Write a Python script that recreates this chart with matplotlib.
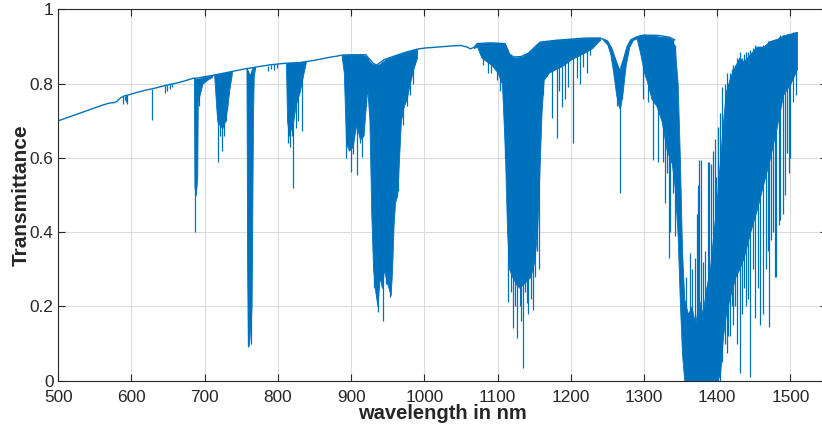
import numpy as np
import matplotlib.pyplot as plt

# upper envelope / continuum of the spectrum (nm, transmittance)
cont_wl = [500, 510, 520, 530, 540, 550, 560, 570, 576, 580, 585, 590, 600, 610, 620, 630,
           640, 650, 660, 670, 680, 685, 690, 700, 710, 720, 730, 740, 750, 757, 766, 770,
           780, 790, 800, 810, 820, 830, 840, 850, 860, 870, 880, 887, 900, 920, 930, 935,
           945, 960, 975, 990, 1000, 1020, 1040, 1050, 1058, 1063, 1068, 1072, 1090, 1110,
           1116, 1122, 1132, 1142, 1150, 1158, 1180, 1200, 1220, 1240, 1250, 1256, 1262,
           1266, 1268, 1272, 1277, 1282, 1290, 1300, 1320, 1335, 1342]
cont_t = [0.700, 0.707, 0.714, 0.721, 0.728, 0.735, 0.742, 0.748, 0.749, 0.752, 0.762, 0.767,
          0.772, 0.778, 0.783, 0.787, 0.792, 0.797, 0.801, 0.806, 0.812, 0.815, 0.815, 0.819,
          0.822, 0.826, 0.830, 0.834, 0.838, 0.841, 0.843, 0.845, 0.848, 0.851, 0.853, 0.855,
          0.856, 0.857, 0.860, 0.863, 0.867, 0.871, 0.874, 0.877, 0.878, 0.878, 0.855, 0.850,
          0.865, 0.875, 0.885, 0.893, 0.896, 0.899, 0.902, 0.903, 0.899, 0.894, 0.898, 0.908,
          0.910, 0.908, 0.880, 0.872, 0.873, 0.882, 0.897, 0.912, 0.917, 0.920, 0.923, 0.923,
          0.915, 0.895, 0.860, 0.838, 0.840, 0.865, 0.900, 0.918, 0.926, 0.931, 0.930, 0.925,
          0.918]

# dense absorption bands: wavelength, top and bottom of the filled region
o2b_wl = [685.3, 686, 688, 689.8, 690.5, 693, 697, 703, 710]
o2b_hi = [0.816, 0.815, 0.812, 0.812, 0.812, 0.814, 0.817, 0.819, 0.822]
o2b_lo = [0.810, 0.520, 0.500, 0.550, 0.750, 0.770, 0.800, 0.810, 0.818]

h2o720_wl = [713, 715, 717, 720, 724, 728, 731, 734, 737]
h2o720_hi = [0.825, 0.824, 0.824, 0.826, 0.827, 0.829, 0.830, 0.832, 0.833]
h2o720_lo = [0.820, 0.760, 0.700, 0.690, 0.680, 0.700, 0.740, 0.790, 0.825]

o2a_wl = [757, 758, 759, 760, 761, 762, 763, 764, 765, 766, 767, 769]
o2a_hi = [0.841, 0.840, 0.835, 0.830, 0.825, 0.825, 0.830, 0.838, 0.842, 0.843, 0.844, 0.845]
o2a_lo = [0.840, 0.300, 0.100, 0.095, 0.110, 0.140, 0.160, 0.200, 0.450, 0.720, 0.820, 0.844]

h2o820_wl = [811, 812.5, 815, 818, 821, 824, 827, 830, 834, 838]
h2o820_hi = [0.855, 0.855, 0.855, 0.856, 0.856, 0.857, 0.857, 0.858, 0.859, 0.860]
h2o820_lo = [0.850, 0.700, 0.660, 0.680, 0.700, 0.740, 0.760, 0.780, 0.820, 0.856]

h2o940_wl = [887, 890, 893, 897, 902, 907, 912, 917, 922, 925, 927.5, 930, 933, 936, 939,
             942, 945, 948, 951, 954, 956, 958, 960, 963, 966, 968, 972, 976, 980, 985, 990]
h2o940_hi = [0.877, 0.877, 0.877, 0.878, 0.878, 0.878, 0.878, 0.877, 0.870, 0.860, 0.855,
             0.852, 0.850, 0.850, 0.853, 0.858, 0.862, 0.866, 0.868, 0.870, 0.872, 0.874,
             0.875, 0.877, 0.879, 0.880, 0.883, 0.885, 0.888, 0.890, 0.893]
h2o940_lo = [0.875, 0.830, 0.640, 0.620, 0.630, 0.690, 0.650, 0.660, 0.790, 0.700, 0.450,
             0.300, 0.240, 0.200, 0.280, 0.250, 0.300, 0.270, 0.250, 0.230, 0.300, 0.420,
             0.480, 0.500, 0.620, 0.700, 0.740, 0.760, 0.800, 0.840, 0.870]

h2o1130_wl = [1068, 1072, 1078, 1085, 1092, 1100, 1106, 1110, 1113, 1116, 1120, 1125, 1130,
              1135, 1140, 1145, 1150, 1154, 1157, 1160, 1163, 1170, 1180, 1190, 1200, 1210,
              1220, 1230, 1236, 1240]
h2o1130_hi = [0.898, 0.908, 0.909, 0.910, 0.910, 0.910, 0.909, 0.908, 0.895, 0.880, 0.872,
              0.870, 0.872, 0.874, 0.880, 0.888, 0.897, 0.905, 0.910, 0.912, 0.914, 0.915,
              0.917, 0.918, 0.920, 0.921, 0.922, 0.923, 0.923, 0.923]
h2o1130_lo = [0.896, 0.900, 0.870, 0.860, 0.850, 0.830, 0.800, 0.620, 0.400, 0.300, 0.280,
              0.260, 0.250, 0.260, 0.270, 0.280, 0.320, 0.400, 0.550, 0.720, 0.810, 0.830,
              0.840, 0.850, 0.865, 0.875, 0.885, 0.897, 0.910, 0.918]

o2_1268_wl = [1244, 1250, 1254, 1258, 1262, 1266, 1268, 1271, 1275, 1280, 1285, 1290]
o2_1268_hi = [0.922, 0.915, 0.900, 0.880, 0.855, 0.835, 0.840, 0.860, 0.890, 0.915, 0.922, 0.926]
o2_1268_lo = [0.918, 0.905, 0.880, 0.830, 0.770, 0.735, 0.740, 0.780, 0.850, 0.900, 0.918, 0.922]

h2o1400_wl = [1290, 1295, 1300, 1305, 1310, 1317, 1324, 1331, 1338, 1342, 1346, 1349, 1352,
              1355, 1360, 1365, 1370, 1375, 1380, 1385, 1390, 1395, 1400, 1404, 1408, 1412,
              1418, 1425, 1430, 1436, 1445, 1454, 1463, 1472, 1481, 1490, 1500, 1509]
h2o1400_hi = [0.926, 0.931, 0.932, 0.930, 0.930, 0.928, 0.926, 0.925, 0.920, 0.900, 0.800,
              0.600, 0.350, 0.220, 0.180, 0.200, 0.150, 0.220, 0.180, 0.250, 0.300, 0.400,
              0.500, 0.600, 0.700, 0.780, 0.820, 0.850, 0.870, 0.860, 0.880, 0.900, 0.900,
              0.915, 0.920, 0.930, 0.935, 0.940]
h2o1400_lo = [0.922, 0.880, 0.830, 0.800, 0.760, 0.740, 0.700, 0.620, 0.585, 0.520, 0.390,
              0.210, 0.070, 0.000, 0.000, 0.000, 0.000, 0.000, 0.000, 0.000, 0.000, 0.000,
              0.000, 0.020, 0.120, 0.180, 0.230, 0.280, 0.300, 0.330, 0.400, 0.460, 0.530,
              0.600, 0.680, 0.770, 0.800, 0.840]

# single absorption lines: wavelength, bottom and top of each line
spike_wl = [588.5, 590.5, 592.5, 594.5, 627.6, 646, 649, 652, 655, 686.2, 690, 692,
            718.5, 721, 724, 726, 729, 731, 759.5, 763.5, 786, 790, 795, 799,
            813.5, 816.5, 819, 821, 824.5, 827, 832.5,
            893, 899.4, 903, 908, 912, 915.3, 920, 931, 936.3, 943.2, 947.5, 953.1, 964,
            971.3, 975.9, 981, 985,
            1080, 1086.4, 1091, 1099, 1103.4, 1110, 1114.8, 1118.5, 1121.7, 1124, 1127,
            1130.7, 1132.5, 1134.4, 1137.6, 1140, 1142, 1145.2, 1148, 1151, 1153.6, 1156,
            1162.6, 1167.2, 1174, 1180.9, 1184, 1187.7, 1192, 1196, 1202.7, 1208, 1212,
            1217, 1222, 1226.4, 1263, 1267.4, 1270,
            1298, 1305, 1312.8, 1319.7, 1326.5, 1328.8, 1331, 1334.7, 1335.6, 1340, 1342.5,
            1358, 1362.9, 1366, 1370, 1373, 1374.3, 1375.7, 1377.5, 1381, 1384, 1388,
            1389.4, 1391, 1394.8, 1397, 1399, 1401.4, 1404, 1406, 1410.5, 1413, 1415, 1420,
            1424, 1427, 1431, 1436, 1440, 1445, 1449, 1452, 1459, 1463.2, 1470, 1471.4,
            1476, 1479.5, 1480.5, 1486, 1489.6, 1495, 1500, 1504, 1507,
            1417, 1422, 1434, 1442, 1456, 1466, 1474, 1484, 1492, 1498]
spike_lo = [0.745, 0.755, 0.750, 0.745, 0.702, 0.776, 0.780, 0.785, 0.790, 0.400, 0.700, 0.740,
            0.590, 0.660, 0.620, 0.660, 0.700, 0.730, 0.090, 0.100, 0.835, 0.840, 0.838, 0.842,
            0.640, 0.630, 0.660, 0.520, 0.680, 0.700, 0.673,
            0.600, 0.563, 0.610, 0.554, 0.640, 0.603, 0.740, 0.250, 0.185, 0.160, 0.260, 0.225,
            0.510, 0.690, 0.740, 0.770, 0.800,
            0.850, 0.828, 0.828, 0.810, 0.780, 0.600, 0.213, 0.240, 0.142, 0.200, 0.115,
            0.200, 0.160, 0.034, 0.240, 0.210, 0.180, 0.220, 0.190, 0.280, 0.350, 0.300,
            0.770, 0.820, 0.707, 0.653, 0.780, 0.738, 0.760, 0.790, 0.640, 0.815, 0.800,
            0.846, 0.830, 0.876, 0.740, 0.505, 0.760,
            0.760, 0.750, 0.595, 0.590, 0.590, 0.478, 0.560, 0.330, 0.400, 0.506, 0.390,
            0.000, 0.000, 0.000, 0.000, 0.000, 0.000, 0.000, 0.000, 0.000, 0.000, 0.000,
            0.000, 0.000, 0.000, 0.000, 0.000, 0.000, 0.000, 0.050, 0.100, 0.074, 0.120, 0.200,
            0.200, 0.100, 0.020, 0.250, 0.200, 0.010, 0.300, 0.170, 0.150, 0.180, 0.350, 0.145,
            0.400, 0.280, 0.280, 0.433, 0.450, 0.613, 0.600, 0.750, 0.770,
            0.120, 0.150, 0.180, 0.220, 0.250, 0.300, 0.380, 0.420, 0.500, 0.560]
spike_hi = [0.767, 0.768, 0.769, 0.770, 0.787, 0.796, 0.797, 0.799, 0.800, 0.815, 0.815, 0.816,
            0.824, 0.825, 0.827, 0.828, 0.829, 0.830, 0.835, 0.830, 0.849, 0.851, 0.852, 0.853,
            0.855, 0.855, 0.856, 0.856, 0.857, 0.857, 0.858,
            0.877, 0.878, 0.878, 0.878, 0.878, 0.878, 0.875, 0.852, 0.850, 0.858, 0.866, 0.870,
            0.878, 0.883, 0.885, 0.888, 0.890,
            0.909, 0.910, 0.910, 0.910, 0.909, 0.908, 0.885, 0.875, 0.871, 0.870, 0.871,
            0.872, 0.873, 0.874, 0.876, 0.879, 0.880, 0.886, 0.892, 0.899, 0.905, 0.909,
            0.913, 0.915, 0.916, 0.917, 0.917, 0.918, 0.918, 0.919, 0.920, 0.921, 0.921,
            0.922, 0.922, 0.923, 0.855, 0.838, 0.860,
            0.931, 0.930, 0.930, 0.929, 0.926, 0.926, 0.925, 0.923, 0.922, 0.920, 0.905,
            0.280, 0.343, 0.300, 0.330, 0.450, 0.527, 0.595, 0.595, 0.320, 0.350, 0.590,
            0.590, 0.585, 0.620, 0.650, 0.550, 0.684, 0.720, 0.790, 0.800, 0.830, 0.800, 0.840,
            0.850, 0.870, 0.886, 0.880, 0.885, 0.890, 0.895, 0.904, 0.900, 0.905, 0.915, 0.915,
            0.918, 0.920, 0.920, 0.930, 0.930, 0.935, 0.935, 0.938, 0.940,
            0.830, 0.850, 0.870, 0.885, 0.900, 0.905, 0.915, 0.925, 0.932, 0.935]

blue = "#0072BD"
plt.rcParams["font.family"] = ["Liberation Sans", "DejaVu Sans"]

fig = plt.figure(figsize=(8.22, 4.30), dpi=100)
ax = fig.add_axes([0.0709, 0.1147, 0.9352, 0.8633])

ax.plot(cont_wl, cont_t, color=blue, lw=1.0)
bands = [(o2b_wl, o2b_hi, o2b_lo), (h2o720_wl, h2o720_hi, h2o720_lo),
         (o2a_wl, o2a_hi, o2a_lo), (h2o820_wl, h2o820_hi, h2o820_lo),
         (h2o940_wl, h2o940_hi, h2o940_lo), (h2o1130_wl, h2o1130_hi, h2o1130_lo),
         (o2_1268_wl, o2_1268_hi, o2_1268_lo), (h2o1400_wl, h2o1400_hi, h2o1400_lo)]
for wl, hi, lo in bands:
    ax.fill_between(wl, lo, hi, color=blue, lw=0.6)
ax.vlines(spike_wl, spike_lo, spike_hi, color=blue, lw=0.9)

ax.set_xlim(500, 1550)
ax.set_ylim(0, 1)
ax.set_xticks(range(500, 1501, 100))
ax.set_yticks([0, 0.2, 0.4, 0.6, 0.8, 1])
ax.set_yticklabels(["0", "0.2", "0.4", "0.6", "0.8", "1"])
ax.grid(True, color="#dcdcdc", lw=0.8)
ax.set_axisbelow(True)
ax.tick_params(direction="in", top=True, right=True, length=5, width=0.8,
               labelsize=12.4, colors="#262626")
ax.tick_params(axis="x", pad=7)
ax.tick_params(axis="y", pad=3.5)
for s in ax.spines.values():
    s.set_color("#262626")
    s.set_linewidth(0.8)

ax.set_xlabel("wavelength in nm", fontsize=14.5, fontweight="bold", color="#262626", labelpad=-1)
ax.set_ylabel("Transmittance", fontsize=15, fontweight="bold", color="#262626", labelpad=-1)

fig.savefig("out.png", dpi=100)
